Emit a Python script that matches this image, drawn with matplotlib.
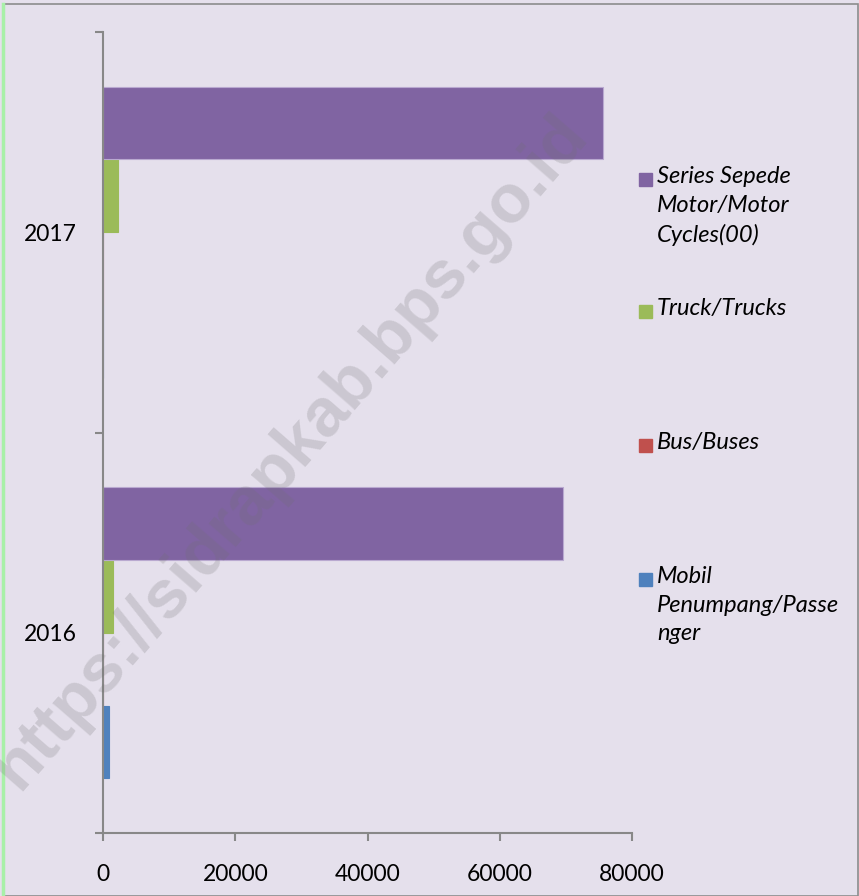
import matplotlib.pyplot as plt
from matplotlib.patches import Rectangle
import numpy as np

years = ["2016", "2017"]
series_names = ["Mobil\nPenumpang/Passe\nnger", "Bus/Buses", "Truck/Trucks",
                "Series Sepede\nMotor/Motor\nCycles(00)"]
mobil = [910, 0]
bus = [0, 0]
truck = [1470, 2270]
motor = [69610, 75660]
colors = ["#4F81BD", "#C0504D", "#9BBB59", "#8064A2"]
xticks = [0, 20000, 40000, 60000, 80000]

bg = "#E5E0EC"
axis_col = "#888888"
plt.rcParams["font.family"] = ["Lato", "DejaVu Sans"]

fig = plt.figure(figsize=(8.59, 8.96), dpi=100, facecolor=bg)
ax = fig.add_axes([103 / 859, 1 - 833 / 896, 529 / 859, 801 / 896])
ax.set_facecolor(bg)

values = [mobil, bus, truck, motor]
h = 1 / 5.5
y = np.arange(len(years))
for i, (vals, c) in enumerate(zip(values, colors)):
    off = (i - 1.5) * h
    ax.barh(y + off, vals, height=h, color=c, edgecolor="#B9A9D0" if i == 3 else c,
            linewidth=0.8)

ax.set_xlim(0, 80000)
ax.set_ylim(-0.5, 1.5)
ax.set_xticks(xticks)
ax.set_xticklabels([str(v) for v in xticks], fontsize=16.5)
ax.set_yticks([-0.5, 0.5, 1.5])
ax.set_yticklabels([])
ax.set_yticks(y, minor=True)
ax.set_yticklabels(years, minor=True, fontsize=16.5)
ax.tick_params(axis="y", which="minor", length=0, pad=19)
ax.tick_params(axis="y", which="major", length=6, width=1.5, color=axis_col)
ax.tick_params(axis="x", length=6, width=1.5, color=axis_col, pad=16)
for s in ["top", "right"]:
    ax.spines[s].set_visible(False)
for s in ["left", "bottom"]:
    ax.spines[s].set_color(axis_col)
    ax.spines[s].set_linewidth(1.5)

# legend, drawn by hand to keep Excel's spacing
leg_order = [3, 2, 1, 0]
leg_tops = [166, 298, 432, 566]
for k, top in zip(leg_order, leg_tops):
    fig.patches.append(Rectangle((639 / 859, 1 - (top + 20) / 896), 13 / 859, 13 / 896,
                                 transform=fig.transFigure, color=colors[k]))
    fig.text(657 / 859, 1 - top / 896, series_names[k], fontsize=17, style="italic",
             va="top", ha="left", linespacing=1.45)

# frame
fig.patches.append(Rectangle((3 / 859, 0), 1 - 4 / 859, 1 - 4 / 896, transform=fig.transFigure,
                             fill=False, edgecolor="#8C8C8C", linewidth=1.2))
fig.add_artist(plt.Line2D([3 / 859, 3 / 859], [0, 1 - 4 / 896], transform=fig.transFigure,
                          color="#A8F0A8", linewidth=2.5))

# watermark
fig.text(290 / 859, 1 - 452 / 896, "https://sidrapkab.bps.go.id", fontsize=49,
         fontweight="bold", color="#707070", alpha=0.22, rotation=49,
         ha="center", va="center", family="Liberation Sans")

fig.savefig("out.png", dpi=100, facecolor=bg)
